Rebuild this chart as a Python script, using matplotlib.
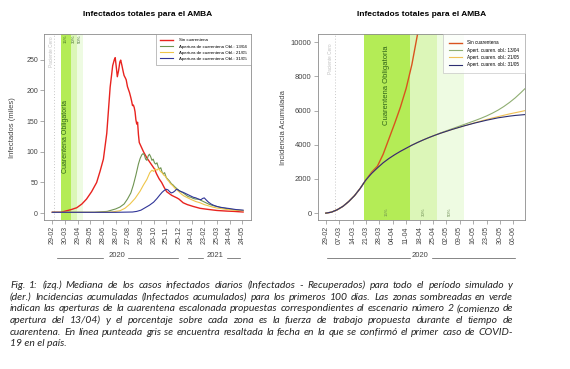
import matplotlib
matplotlib.use('Agg')
import matplotlib.pyplot as plt
import matplotlib.dates as mdates
import numpy as np
import pandas as pd

plt.rcParams['font.family'] = ['Liberation Sans', 'DejaVu Sans']

START = pd.Timestamp('2020-02-29')

# ---- panel izquierdo: infectados activos (miles) ----
red_days = [0, 20, 34, 45, 58, 70, 81, 93, 105, 113, 121, 129, 137, 143, 147, 149, 152, 154, 157, 160,
            162, 165, 168, 170, 173, 175, 178, 180, 183, 186, 188, 190, 192, 194, 196, 198, 200, 202, 204,
            206, 208, 212, 216, 220, 224, 230, 236, 242, 247, 253, 259, 265, 271, 277, 283, 289, 295, 300,
            310, 320, 334, 350, 366, 390, 413, 430, 452]
red_vals = [1.5, 1.5, 4, 6, 9, 15, 23, 35, 50, 68, 88, 130, 205, 240, 250, 253, 235, 222, 232, 246,
            249, 240, 230, 224, 220, 217, 206, 202, 196, 188, 182, 175, 176, 172, 165, 152, 145, 148, 128,
            115, 112, 106, 100, 95, 90, 84, 78, 72, 64, 56, 50, 42, 35, 32, 29, 27, 25, 23,
            17, 14, 11, 8, 6.5, 4.5, 3.5, 3, 2]

green_days = [0, 60, 100, 130, 150, 160, 170, 178, 186, 192, 198, 204, 208, 212, 215, 218, 221, 224, 227,
              230, 233, 236, 239, 242, 245, 248, 251, 254, 257, 260, 263, 266, 270, 274, 278, 282, 286,
              290, 295, 300, 305, 310, 316, 322, 328, 334, 340, 346, 352, 358, 364, 370, 380, 390, 400,
              410, 421, 435, 452]
green_vals = [1.5, 1.5, 1.5, 3, 7, 10, 15, 23, 33, 46, 62, 80, 89, 95, 97, 95, 88, 86, 93,
              96, 92, 86, 88, 82, 80, 82, 75, 72, 74, 67, 64, 66, 58, 55, 52, 48, 46,
              43, 40, 37, 35, 33, 30, 27, 26, 24, 23, 23, 21, 19, 17, 15, 12.5, 11, 9,
              8, 6.5, 5.5, 4.5]

yellow_days = [0, 100, 140, 160, 172, 184, 196, 208, 216, 224, 231, 236, 240, 244, 248, 252, 256, 260,
               264, 268, 272, 276, 280, 285, 290, 295, 300, 306, 312, 318, 324, 330, 340, 350, 360,
               370, 380, 390, 400, 415, 430, 452]
yellow_vals = [1.5, 1.5, 2, 4, 8, 15, 24, 36, 46, 55, 66, 70, 68, 72, 70, 73, 68, 66,
               62, 60, 55, 52, 48, 45, 41, 38, 35, 31, 28, 26, 24, 22, 19, 17, 14,
               12, 10, 8.5, 7.5, 6, 5, 4]

blue_days = [0, 150, 190, 200, 210, 220, 230, 240, 248, 255, 260, 265, 270, 274, 278, 282, 286, 290,
             294, 298, 302, 306, 310, 316, 322, 328, 334, 340, 346, 352, 356, 360, 364, 370, 376, 382,
             390, 400, 410, 421, 435, 452]
blue_vals = [1.5, 1.5, 2, 3, 5, 9, 13, 18, 24, 30, 34, 37, 39, 38, 35, 33, 34, 36,
             39, 38, 36, 35, 34, 32, 30, 28, 26, 25, 23, 22, 24, 25, 22, 18, 15, 13,
             11, 9.5, 8.5, 7.5, 6, 5]

# ---- panel derecho: incidencia acumulada, primeros 100 dias ----
acc_days = [0, 3, 6, 9, 12, 15, 18, 21, 24, 27, 30, 33, 36, 39, 42, 45, 48, 51, 54, 57, 60, 63, 66,
            69, 72, 75, 78, 81, 84, 87, 90, 93, 96, 99, 102, 104]
acc_blue = [0, 60, 200, 400, 680, 1020, 1450, 1950, 2330, 2650, 2950, 3200, 3420, 3620, 3800, 3980,
            4140, 4290, 4430, 4560, 4680, 4790, 4900, 5000, 5100, 5190, 5280, 5360, 5440, 5510, 5580,
            5630, 5680, 5720, 5750, 5770]
acc_green = [0, 60, 200, 400, 680, 1020, 1450, 1950, 2330, 2650, 2950, 3200, 3420, 3620, 3800, 3980,
             4140, 4290, 4430, 4560, 4700, 4820, 4940, 5060, 5180, 5300, 5420, 5550, 5690, 5850, 6030,
             6240, 6480, 6750, 7060, 7280]
acc_yellow = [0, 60, 200, 400, 680, 1020, 1450, 1950, 2330, 2650, 2950, 3200, 3420, 3620, 3800, 3980,
              4140, 4290, 4430, 4560, 4680, 4790, 4900, 5000, 5100, 5200, 5300, 5390, 5480, 5570, 5650,
              5730, 5810, 5880, 5950, 6000]
red_acc_days = [0, 3, 6, 9, 12, 15, 18, 21, 24, 27, 30, 33, 36, 39, 42, 45, 48, 51]
red_acc = [0, 60, 200, 400, 680, 1020, 1450, 1950, 2400, 2750, 3450, 4350, 5250, 6200, 7300, 8700,
           10500, 12500]

phases = ['2020-03-20', '2020-04-13', '2020-04-27', '2020-05-11']
phase_pct = ['15%', '30%', '50%']
phase_cols = ['#b4ec56', '#dcf6b8', '#eefbe2']
paciente_cero = '2020-03-05'

left_labels = ['Sin cuarentena', 'Apertura de cuarentena Obl.: 13/04',
               'Apertura de cuarentena Obl.: 21/05', 'Apertura de cuarentena Obl.: 31/05']
right_labels = ['Sin cuarentena', 'Apert. cuaren. obl.: 13/04',
                'Apert. cuaren. obl.: 21/05', 'Apert. cuaren. obl.: 31/05']

caption = [
    'Fig. 1: (izq.) Mediana de los casos infectados diarios (Infectados - Recuperados) para todo el período simulado y',
    '(der.) Incidencias acumuladas (Infectados acumulados) para los primeros 100 días. Las zonas sombreadas en verde',
    'indican las aperturas de la cuarentena escalonada propuestas correspondientes al escenario número 2 (comienzo de',
    'apertura  del 13/04) y el porcentaje sobre cada zona es la fuerza de trabajo propuesta durante el tiempo de',
    'cuarentena. En línea punteada gris se encuentra resaltada la fecha en la que se confirmó el primer caso de COVID-',
    '19 en el país.',
]


def to_dates(days):
    return START + pd.to_timedelta(days, unit='D')


def style_axis(ax, ylabel, yfs):
    for s in ax.spines.values():
        s.set_color('#8c8c8c')
        s.set_linewidth(0.6)
    ax.tick_params(direction='out', length=3, width=0.5, color='#8c8c8c', labelcolor='#444444')
    ax.tick_params(axis='x', labelsize=5, rotation=90, pad=1.5)
    ax.tick_params(axis='y', labelsize=yfs, pad=1.5)
    ax.xaxis.set_major_formatter(mdates.DateFormatter('%d-%m'))
    ax.set_ylabel(ylabel, fontsize=5.5, color='#444444')
    ax.set_title('Infectados totales para el AMBA', fontsize=6, fontweight='bold', pad=13)


def shade(ax):
    for i in range(3):
        ax.axvspan(pd.Timestamp(phases[i]), pd.Timestamp(phases[i + 1]), color=phase_cols[i], lw=0, zorder=0)
    ax.axvline(pd.Timestamp(paciente_cero), color='#c8c8c8', lw=0.7, ls=(0, (1, 2)), zorder=1)


def year_label(ax, text, x_text, seg1, seg2):
    tr = ax.get_xaxis_transform()
    ax.text(to_dates([x_text])[0], -0.19, text, transform=tr, fontsize=5.5, color='#444444',
            ha='center', va='center', clip_on=False)
    for a, b in (seg1, seg2):
        ax.plot(to_dates([a, b]), [-0.205, -0.205], transform=tr, color='#555555', lw=0.5, clip_on=False)


fig = plt.figure(figsize=(5.7, 3.69), dpi=100)
W, H = 570, 369

# ---------------- izquierda ----------------
ax1 = fig.add_axes([44.3 / W, 1 - 220 / H, 206.4 / W, 185.7 / H])
shade(ax1)
ax1.plot(to_dates(red_days), red_vals, color='#e8231f', lw=1.0, label=left_labels[0])
ax1.plot(to_dates(green_days), green_vals, color='#6f9452', lw=0.8, label=left_labels[1])
ax1.plot(to_dates(yellow_days), yellow_vals, color='#efc64a', lw=0.8, label=left_labels[2])
ax1.plot(to_dates(blue_days), blue_vals, color='#303598', lw=0.8, label=left_labels[3])
ax1.set_xlim(to_dates([-19])[0], to_dates([470])[0])
ax1.set_ylim(-11, 291)
ax1.set_yticks([0, 50, 100, 150, 200, 250])
ax1.set_xticks(pd.date_range(START, periods=16, freq='30D'))
style_axis(ax1, 'Infectados (miles)', 5)
ax1.yaxis.set_label_coords(-0.135, 0.5)
mid = [pd.Timestamp(phases[i]) + (pd.Timestamp(phases[i + 1]) - pd.Timestamp(phases[i])) / 2 for i in range(3)]
for m, p in zip(mid, phase_pct):
    ax1.text(m, 284, p, rotation=90, fontsize=3.2, color='#3f6e22', ha='center', va='center')
ax1.text(mid[0], 125, 'Cuarentena Obligatoria', rotation=90, fontsize=5, color='#2f6418', ha='center', va='center')
ax1.text(pd.Timestamp(paciente_cero) - pd.Timedelta(days=6), 262, 'Paciente Cero', rotation=90, fontsize=3.4,
         color='#c0c0c0', ha='center', va='center')
leg = ax1.legend(loc='upper right', bbox_to_anchor=(1, 1), borderaxespad=0, fontsize=3.2, frameon=True,
                 fancybox=False, edgecolor='#8c8c8c', handlelength=3, labelspacing=0.45,
                 borderpad=0.9, handletextpad=1.2)
leg.get_frame().set_linewidth(0.5)
year_label(ax1, '2020', 152, (10, 120), (179, 298))
year_label(ax1, '2021', 386, (322, 357), (414, 445))

# ---------------- derecha ----------------
ax2 = fig.add_axes([317.7 / W, 1 - 220 / H, 207.3 / W, 185.7 / H])
shade(ax2)
ax2.plot(to_dates(red_acc_days), red_acc, color='#d9531e', lw=1.0, label=right_labels[0])
ax2.plot(to_dates(acc_days), acc_green, color='#8fae72', lw=0.8, label=right_labels[1])
ax2.plot(to_dates(acc_days), acc_yellow, color='#efc054', lw=0.8, label=right_labels[2])
ax2.plot(to_dates(acc_days), acc_blue, color='#2b2e70', lw=0.8, label=right_labels[3])
ax2.set_xlim(to_dates([-4.2])[0], to_dates([104.1])[0])
ax2.set_ylim(-400, 10470)
ax2.set_yticks(range(0, 10001, 2000))
ax2.set_xticks(pd.date_range(START, periods=15, freq='7D'))
style_axis(ax2, 'Incidencia Acumulada', 5.5)
ax2.yaxis.set_label_coords(-0.15, 0.5)
for m, p in zip(mid, phase_pct):
    ax2.text(m, 100, p, rotation=90, fontsize=3.2, color='#6a8a50', ha='center', va='center')
ax2.text(mid[0], 7500, 'Cuarentena Obligatoria', rotation=90, fontsize=5.5, color='#2f6418', ha='center', va='center')
ax2.text(pd.Timestamp(paciente_cero) - pd.Timedelta(days=2.5), 9020, 'Paciente Cero', rotation=90, fontsize=3.4,
         color='#c0c0c0', ha='center', va='center')
leg2 = ax2.legend(loc='upper right', bbox_to_anchor=(1, 1), borderaxespad=0, fontsize=3.3, frameon=True,
                  fancybox=False, edgecolor='#bbbbbb', handlelength=3, labelspacing=0.5,
                  borderpad=1.3, handletextpad=1.0)
leg2.get_frame().set_linewidth(0.5)
year_label(ax2, '2020', 49, (0.5, 44), (55.4, 99))

# ---------------- epigrafe justificado ----------------
fig.canvas.draw()
r = fig.canvas.get_renderer()
x0, x1 = 10, 513
ys = [288, 299.7, 311.4, 323, 334.7, 346.4]   # lineas base
cap_kw = dict(fontsize=7.5, style='italic', family=['Lato', 'DejaVu Sans'], color='#262626', va='baseline')
for i, line in enumerate(caption):
    y = 1 - ys[i] / H
    if i == len(caption) - 1:
        fig.text(x0 / W, y, line, **cap_kw)
        continue
    words = line.split()
    txts = [fig.text(0, y, w, **cap_kw) for w in words]
    widths = [t.get_window_extent(r).width for t in txts]
    gap = (x1 - x0 - sum(widths)) / (len(words) - 1)
    pos = x0
    for t, w in zip(txts, widths):
        t.set_x(pos / W)
        pos += w + gap

fig.savefig('out.png', dpi=100)
